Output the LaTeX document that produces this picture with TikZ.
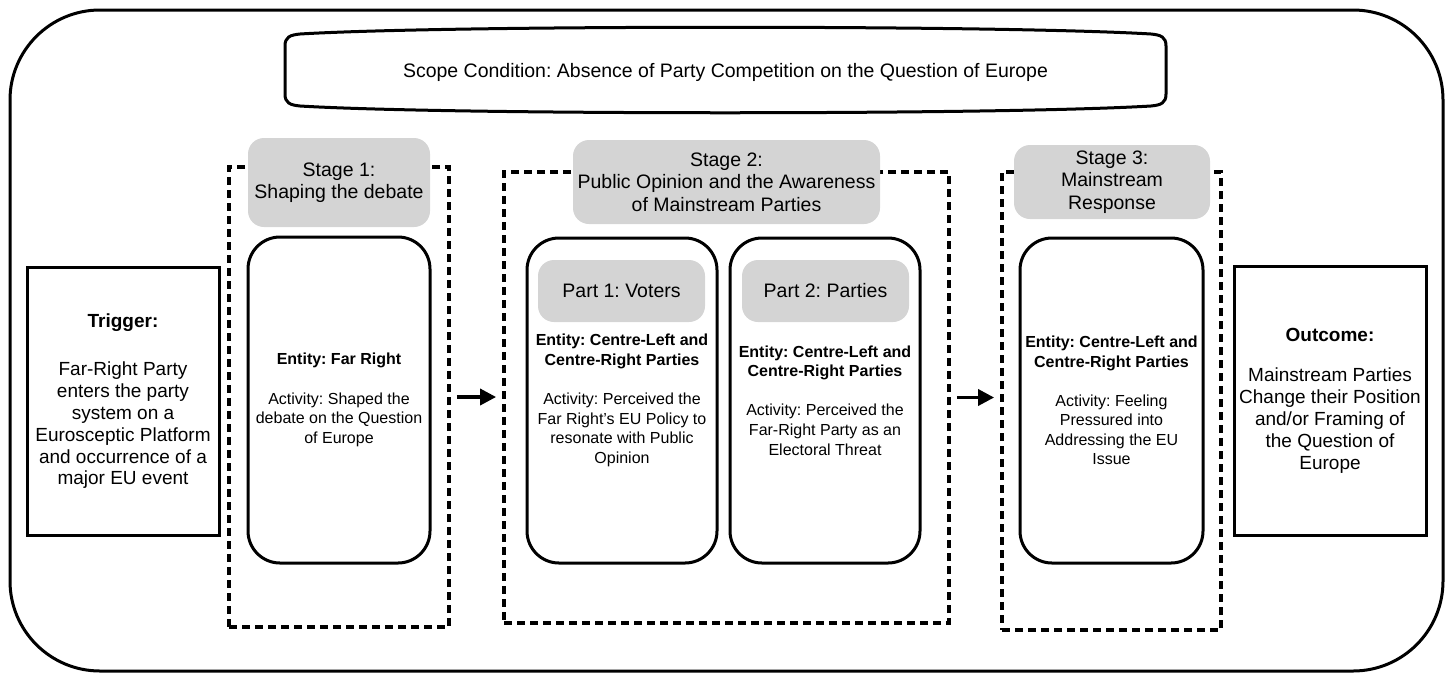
\documentclass[tikz,border=0pt]{standalone}
\usepackage{fontspec}
\setmainfont{Liberation Sans}
\usetikzlibrary{arrows.meta}
\definecolor{labgray}{RGB}{212,212,212}
\frenchspacing
\begin{document}
\begin{tikzpicture}[x=1pt,y=-1pt,
  solidbox/.style={draw, line width=3pt, inner sep=0pt, align=center},
  roundbox/.style={solidbox, rounded corners=32pt, font=\fontsize{16}{19.6}\selectfont},
  sqbox/.style={solidbox, font=\fontsize{19}{21.8}\selectfont},
  dashbox/.style={draw, line width=3.8pt, dash pattern=on 8pt off 5pt, inner sep=0pt},
  graylab/.style={fill=labgray, rounded corners=16pt, inner sep=0pt, align=center, font=\fontsize{19.5}{22.5}\selectfont},
  partlab/.style={graylab, font=\fontsize{19.5}{22}\selectfont},
  flow/.style={line width=3.5pt, -{Triangle[length=16pt,width=16pt]}, shorten <=6pt, shorten >=6pt}
]
\useasboundingbox (0,0) rectangle (1453,673);

% outer frame
\node[draw, line width=3pt, rounded corners=90pt, minimum width=1433pt, minimum height=661pt, inner sep=0pt] (frame) at (726.5,340.5) {};

% scope condition
\node[minimum width=881pt, minimum height=87pt, inner sep=0pt, font=\fontsize{19.5}{21}\selectfont] (scope) at (725.5,72) {Scope Condition: Absence of Party Competition on the Question of Europe};
\draw[line width=3pt] (285,46) -- (285,94)
  .. controls (285,103) and (290,105) .. (300,106)
  .. controls (450,115) and (1000,115) .. (1151,106)
  .. controls (1161,105) and (1166,103) .. (1166,94)
  -- (1166,46)
  .. controls (1166,37) and (1161,35) .. (1151,34)
  .. controls (1000,25) and (450,25) .. (300,34)
  .. controls (290,35) and (285,37) .. (285,46) -- cycle;

% trigger and outcome
\node[sqbox, minimum width=192pt, minimum height=268pt] (trigger) at (123,401)
  {\textbf{Trigger:}\\[27pt]Far-Right Party\\enters the party\\system on a\\Eurosceptic Platform\\and occurrence of a\\major EU event};
\node[sqbox, minimum width=192pt, minimum height=269pt] (outcome) at (1330,400.5)
  {\textbf{Outcome:}\\[19pt]Mainstream Parties\\Change their Position\\and/or Framing of\\the Question of\\Europe};

% stage frames
\node[dashbox, minimum width=220pt, minimum height=460pt] (s1) at (339,397) {};
\node[dashbox, minimum width=445pt, minimum height=451pt] (s2) at (726.5,397.5) {};
\node[dashbox, minimum width=219pt, minimum height=458pt] (s3) at (1111.5,401) {};

% stage labels
\node[graylab, minimum width=182pt, minimum height=89pt] (s1lab) at (339,182.5) {Stage 1:\\Shaping the debate};
\node[graylab, minimum width=307pt, minimum height=84pt] (s2lab) at (726.5,182) {Stage 2:\\Public Opinion and the Awareness\\of Mainstream Parties};
\node[graylab, minimum width=196pt, minimum height=74pt] (s3lab) at (1112,182) {Stage 3:\\Mainstream\\Response};

% inner boxes
\node[roundbox, minimum width=182pt, minimum height=326pt] (s1box) at (339,400)
  {\textbf{Entity: Far Right}\\[19.5pt]Activity: Shaped the\\debate on the Question\\of Europe};
\node[roundbox, minimum width=190pt, minimum height=325pt] (p1box) at (622,400.5)
  {\textbf{Entity: Centre-Left and}\\\textbf{Centre-Right Parties}\\[19.5pt]Activity: Perceived the\\Far Right’s EU Policy to\\resonate with Public\\Opinion};
\node[roundbox, minimum width=190pt, minimum height=325pt] (p2box) at (825,400.5)
  {\textbf{Entity: Centre-Left and}\\\textbf{Centre-Right Parties}\\[19.5pt]Activity: Perceived the\\Far-Right Party as an\\Electoral Threat};
\node[roundbox, minimum width=183pt, minimum height=325pt] (s3box) at (1111.5,400.5)
  {\textbf{Entity: Centre-Left and}\\\textbf{Centre-Right Parties}\\[19.5pt]Activity: Feeling\\Pressured into\\Addressing the EU\\Issue};

% part labels
\node[partlab, minimum width=167pt, minimum height=62pt] (p1lab) at (621.5,291) {Part 1: Voters};
\node[partlab, minimum width=167pt, minimum height=62pt] (p2lab) at (825.5,291) {Part 2: Parties};

% connectors
\draw[flow] (s1.east) -- (s1.east -| s2.west);
\draw[flow] (s2.east) -- (s2.east -| s3.west);
\end{tikzpicture}
\end{document}
